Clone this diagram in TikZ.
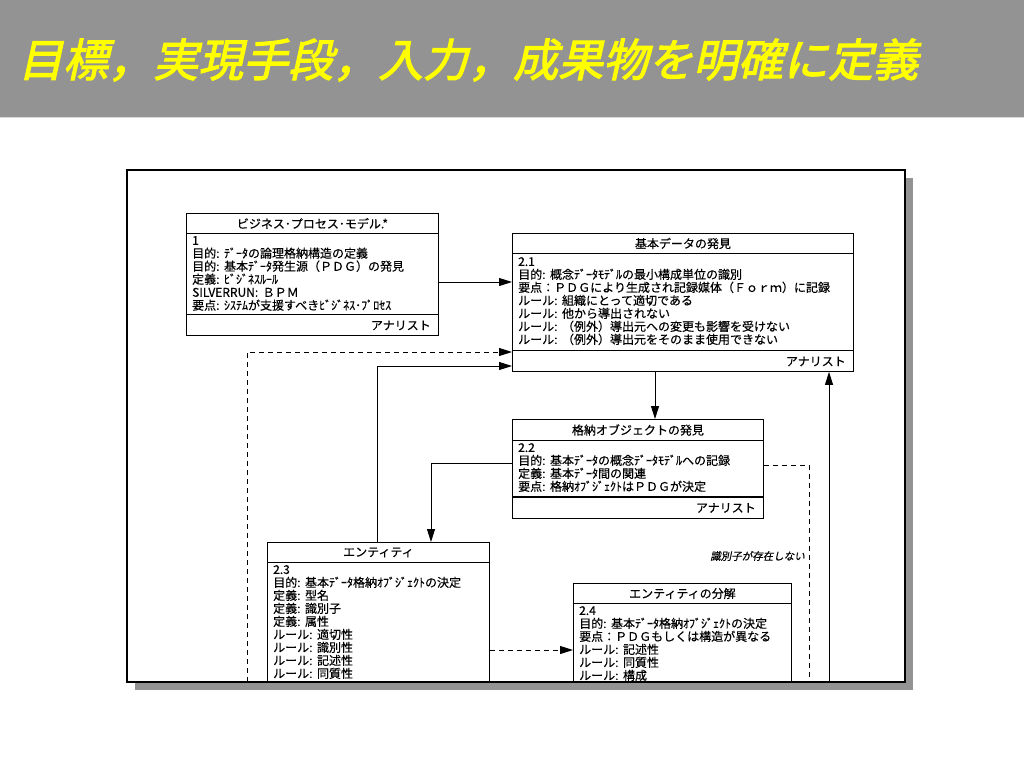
\documentclass[tikz,border=0pt]{standalone}
\usepackage{fontspec}
\usetikzlibrary{arrows.meta}
\newfontfamily\jp[FakeBold=0.35]{Noto Sans CJK JP}
\newfontfamily\jpit[FakeSlant=0.2,FakeBold=0.35]{Noto Sans CJK JP}
\newfontfamily\jptitle[FakeSlant=0.22,FakeBold=2.5]{Noto Sans CJK JP}
\newcommand\colsp{:\hspace{4.5pt}}
\definecolor{hdr}{HTML}{939393}
\definecolor{ttlc}{HTML}{FFFF00}
\begin{document}
\begin{tikzpicture}[x=1pt,y=-1pt,
  box/.style={draw,line width=0.9pt,fill=white,inner sep=0pt,anchor=north west},
  boxtitle/.style={font=\jp\fontsize{12}{13}\selectfont,inner sep=0pt},
  boxbody/.style={font=\jp\fontsize{12}{13}\selectfont,align=left,inner sep=0pt,anchor=north west},
  boxfoot/.style={font=\jp\fontsize{12}{13}\selectfont,inner sep=0pt,anchor=east},
  arr/.style={line width=0.9pt,-{Triangle[length=13pt,width=8pt]}},
  conn/.style={line width=0.9pt},
  dsh/.style={line width=0.9pt,dash pattern=on 5pt off 4pt},
  dsharr/.style={dsh,-{Triangle[length=13pt,width=8pt]}},
  sep/.style={line width=0.9pt},
  lbl/.style={font=\jpit\fontsize{10.5}{12}\selectfont,inner sep=0pt,anchor=east}
]
\useasboundingbox (0,0) rectangle (1024,768);
\fill[white] (0,0) rectangle (1024,768);
% header
\fill[hdr] (0,0) rectangle (1024,117);
\draw[color=black!15,line width=1.2pt] (0,117.6) -- (1024,117.6);
\node[font=\jptitle\fontsize{45}{50}\selectfont,text=ttlc,inner sep=0pt,anchor=west] (title) at (18,60) {目標，実現手段，入力，成果物を明確に定義};
% frame with shadow
\fill[hdr] (135,178) rectangle (913,690);
\fill[white] (127,170) rectangle (905,682);
\begin{scope}
\clip (127,170) rectangle (905,682);
% coordinates for connector heights / positions
\coordinate (y282) at (0,282);
\coordinate (y352) at (0,352);
\coordinate (y366) at (0,366);
\coordinate (y463) at (0,463);
\coordinate (y465) at (0,465);
\coordinate (y650) at (0,650);
\coordinate (x377) at (377,0);
\coordinate (x431) at (431,0);
\coordinate (x655) at (655,0);
\coordinate (x829) at (829,0);
\coordinate (dstart) at (247,700);
\coordinate (dend) at (809,700);
\coordinate (sstart) at (829,700);

% Box 1
\node[box,minimum width=252pt,minimum height=122pt] (b1) at (186,213) {};
\draw[sep] ([yshift=-20pt]b1.north west) -- ([yshift=-20pt]b1.north east);
\draw[sep] ([yshift=21pt]b1.south west) -- ([yshift=21pt]b1.south east);
\node[boxtitle] (b1t) at ([yshift=-10.5pt]b1.north) {ビジネス･プロセス･モデル.*};
\node[boxbody] (b1b) at ([xshift=6pt,yshift=-23pt]b1.north west) {1\\目的\colsp ﾃﾞｰﾀの論理格納構造の定義\\目的\colsp 基本ﾃﾞｰﾀ発生源（ＰＤＧ）の発見\\定義\colsp ﾋﾞｼﾞﾈｽﾙｰﾙ\\SILVERRUN\colsp ＢＰＭ\\要点\colsp ｼｽﾃﾑが支援すべきﾋﾞｼﾞﾈｽ･ﾌﾟﾛｾｽ};
\node[boxfoot] (b1f) at ([xshift=-8pt,yshift=10.5pt]b1.south east) {アナリスト};

% Box 2.1
\node[box,minimum width=341pt,minimum height=138pt] (b21) at (512,233) {};
\draw[sep] ([yshift=-20pt]b21.north west) -- ([yshift=-20pt]b21.north east);
\draw[sep] ([yshift=21pt]b21.south west) -- ([yshift=21pt]b21.south east);
\node[boxtitle] (b21t) at ([yshift=-10.5pt]b21.north) {基本データの発見};
\node[boxbody] (b21b) at ([xshift=6pt,yshift=-24pt]b21.north west) {2.1\\目的\colsp 概念ﾃﾞｰﾀﾓﾃﾞﾙの最小構成単位の識別\\要点：ＰＤＧにより生成され記録媒体（Ｆｏｒｍ）に記録\\ルール\colsp 組織にとって適切である\\ルール\colsp 他から導出されない\\ルール\colsp （例外）導出元への変更も影響を受けない\\ルール\colsp （例外）導出元をそのまま使用できない};
\node[boxfoot] (b21f) at ([xshift=-8pt,yshift=10.5pt]b21.south east) {アナリスト};

% Box 2.2
\node[box,minimum width=251pt,minimum height=99pt] (b22) at (512,419) {};
\draw[sep] ([yshift=-21pt]b22.north west) -- ([yshift=-21pt]b22.north east);
\draw[line width=1.6pt] ([yshift=22pt]b22.south west) -- ([yshift=22pt]b22.south east);
\node[boxtitle] (b22t) at ([yshift=-11pt]b22.north) {格納オブジェクトの発見};
\node[boxbody] (b22b) at ([xshift=6pt,yshift=-24pt]b22.north west) {2.2\\目的\colsp 基本ﾃﾞｰﾀの概念ﾃﾞｰﾀﾓﾃﾞﾙへの記録\\定義\colsp 基本ﾃﾞｰﾀ間の関連\\要点\colsp 格納ｵﾌﾞｼﾞｪｸﾄはＰＤＧが決定};
\node[boxfoot] (b22f) at ([xshift=-8pt,yshift=11pt]b22.south east) {アナリスト};

% Box 2.3
\node[box,minimum width=222pt,minimum height=170pt] (b23) at (267,542) {};
\draw[sep] ([yshift=-20pt]b23.north west) -- ([yshift=-20pt]b23.north east);
\node[boxtitle] (b23t) at ([yshift=-10.5pt]b23.north) {エンティティ};
\node[boxbody] (b23b) at ([xshift=6pt,yshift=-23pt]b23.north west) {2.3\\目的\colsp 基本ﾃﾞｰﾀ格納ｵﾌﾞｼﾞｪｸﾄの決定\\定義\colsp 型名\\定義\colsp 識別子\\定義\colsp 属性\\ルール\colsp 適切性\\ルール\colsp 識別性\\ルール\colsp 記述性\\ルール\colsp 同質性};

% Box 2.4
\node[box,minimum width=218pt,minimum height=130pt] (b24) at (573,583) {};
\draw[sep] ([yshift=-20pt]b24.north west) -- ([yshift=-20pt]b24.north east);
\node[boxtitle] (b24t) at ([yshift=-10.5pt]b24.north) {エンティティの分解};
\node[boxbody] (b24b) at ([xshift=6pt,yshift=-23pt]b24.north west) {2.4\\目的\colsp 基本ﾃﾞｰﾀ格納ｵﾌﾞｼﾞｪｸﾄの決定\\要点：ＰＤＧもしくは構造が異なる\\ルール\colsp 記述性\\ルール\colsp 同質性\\ルール\colsp 構成};

% connectors
\draw[arr] (b1.east |- y282) -- (b21.west |- y282);
\draw[dsharr] (dstart) |- (b21.west |- y352);
\draw[arr] (b23.north -| x377) |- (b21.west |- y366);
\draw[arr] (b21.south -| x655) -- (b22.north -| x655);
\draw[arr] (b22.west |- y463) -| (b23.north -| x431);
\draw[dsh] (b22.east |- y465) -| (dend);
\draw[dsharr] (b23.east |- y650) -- (b24.west |- y650);
\draw[arr] (sstart) -- (b21.south -| x829);
\node[lbl] (lab) at (805,556) {識別子が存在しない};
\end{scope}
\draw[line width=1.5pt] (127,170) rectangle (905,682);
\end{tikzpicture}
\end{document}
